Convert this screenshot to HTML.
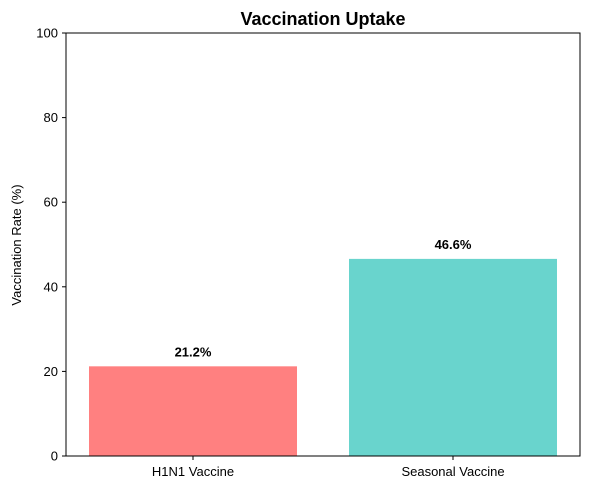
<!DOCTYPE html>
<html><head><meta charset="utf-8"><style>
body{margin:0;background:#fff;}
svg text{font-family:"Liberation Sans","DejaVu Sans",sans-serif;}
</style></head><body>
<svg id="chart" width="590" height="490" xmlns="http://www.w3.org/2000/svg">
<rect width="590" height="490" fill="#fff"/>
<text x="323" y="25" text-anchor="middle" font-size="18" font-weight="bold">Vaccination Uptake</text>
<text transform="translate(21,245) rotate(-90)" text-anchor="middle" font-size="13">Vaccination Rate (%)</text>
<g id="plot"></g>
</svg>
<script>
const categories=["H1N1 Vaccine","Seasonal Vaccine"];
const values=[21.2,46.6];
const labels=["21.2%","46.6%"];
const yTicks=[0,20,40,60,80,100];
const colors=["#ff8080","#69d4cd"];
const L=66,R=580,T=33,B=456;
const y=v=>B-(v/100)*(B-T);
const xu=260;
const x=i=>193+i*xu;
const ns="http://www.w3.org/2000/svg";
const g=document.getElementById('plot');
function mk(tag,attrs,txt){const e=document.createElementNS(ns,tag);for(const k in attrs)e.setAttribute(k,attrs[k]);if(txt!==undefined)e.textContent=txt;g.appendChild(e);return e;}
values.forEach((v,i)=>{
 const bw=0.8*xu;
 const b=mk('rect',{x:x(i)-bw/2,y:y(v),width:bw,height:B-y(v),fill:colors[i]});
 
 
 const t=mk('text',{x:x(i),y:y(v)-10,'text-anchor':'middle','font-size':13,'font-weight':'bold'},labels[i]);
 
 
 const tk=mk('line',{x1:x(i),x2:x(i),y1:B,y2:B+4,stroke:'#000'});
 
 
 const tl=mk('text',{x:x(i),y:B+20,'text-anchor':'middle','font-size':13},categories[i]);
 
 
});
yTicks.forEach(v=>{
 const tk=mk('line',{x1:L-4,x2:L,y1:y(v),y2:y(v),stroke:'#000'});
 
 
 const tl=mk('text',{x:L-8,y:y(v)+4.5,'text-anchor':'end','font-size':13},v);
 
 
});
const fr=mk('rect',{x:L,y:T,width:R-L,height:B-T,fill:'none',stroke:'#000','stroke-width':1});


</script>
</body></html>
